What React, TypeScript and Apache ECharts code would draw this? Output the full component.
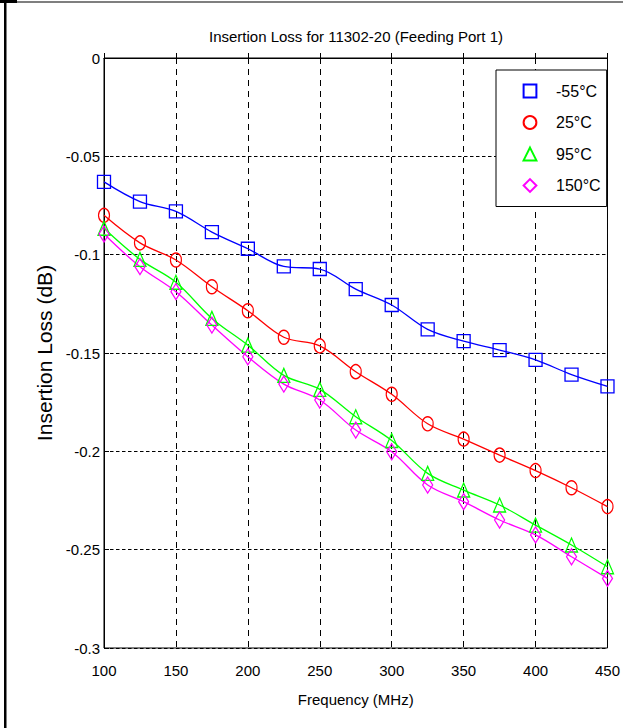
import React, { useEffect, useRef } from "react";
import * as echarts from "echarts";

const titleText = "Insertion Loss for 11302-20 (Feeding Port 1)";
const xAxisName = "Frequency (MHz)";
const yAxisName = "Insertion Loss (dB)";

const frequencies = [100, 125, 150, 175, 200, 225, 250, 275, 300, 325, 350, 375, 400, 425, 450];

const seriesNames = ["-55°C", "25°C", "95°C", "150°C"];

const lossM55 = [-0.063, -0.073, -0.078, -0.0885, -0.097, -0.106, -0.1073, -0.1175, -0.1256, -0.138, -0.144, -0.1485, -0.1535, -0.161, -0.167];
const loss25 = [-0.08, -0.094, -0.1027, -0.1163, -0.1285, -0.142, -0.1464, -0.1595, -0.171, -0.186, -0.1938, -0.2019, -0.2098, -0.2185, -0.2281];
const loss95 = [-0.0866, -0.1024, -0.114, -0.1324, -0.146, -0.1614, -0.1685, -0.1824, -0.1945, -0.2112, -0.2197, -0.2273, -0.2375, -0.2476, -0.2587];
const loss150 = [-0.0895, -0.1061, -0.1188, -0.1358, -0.1519, -0.1658, -0.1739, -0.1892, -0.2002, -0.2171, -0.2256, -0.2349, -0.2425, -0.2536, -0.2646];

const seriesValues = [lossM55, loss25, loss95, loss150];
const seriesColors = ["#0000ff", "#ff0000", "#00ff00", "#ff00ff"];
const seriesSymbols = ["rect", "circle", "triangle", "diamond"];
const seriesSymbolSizes = [[13, 13], [11, 14], [12, 14], [10, 16]];

const FONT = "'Liberation Sans', Arial, sans-serif";

export default function App() {
  const ref = useRef<HTMLDivElement>(null);

  useEffect(() => {
    if (!ref.current) return;
    const chart = echarts.init(ref.current, null, { renderer: "svg" });

    const series = seriesNames.map((name, i) => ({
      name,
      type: "line",
      smooth: 0.35,
      data: frequencies.map((f, j) => [f, seriesValues[i][j]]),
      symbol: seriesSymbols[i],
      symbolSize: seriesSymbolSizes[i],
      showSymbol: true,
      lineStyle: { color: seriesColors[i], width: 1.3 },
      itemStyle: { color: "rgba(255,255,255,0)", borderColor: seriesColors[i], borderWidth: 1.3 },
      emphasis: { disabled: true },
      z: 3,
    }));

    chart.setOption({
      animation: false,
      backgroundColor: "#ffffff",
      title: {
        text: titleText,
        left: 351,
        top: 24,
        textAlign: "center",
        textStyle: { fontFamily: FONT, fontSize: 15, fontWeight: "normal", color: "#000" },
      },
      legend: {
        orient: "vertical",
        left: 496,
        top: 70,
        data: seriesNames,
        backgroundColor: "#ffffff",
        borderColor: "#000",
        borderWidth: 1,
        padding: [13, 6, 13, 12],
        itemWidth: 42,
        itemHeight: 16,
        itemGap: 15.5,
        lineStyle: { opacity: 0 },
        textStyle: { fontFamily: FONT, fontSize: 16, color: "#000" },
        selectedMode: false,
      },
      grid: {
        left: 104,
        right: 11.5,
        top: 58,
        bottom: 80,
        show: true,
        borderColor: "#000",
        borderWidth: 1,
        backgroundColor: "#ffffff",
      },
      xAxis: {
        type: "value",
        min: 100,
        max: 450,
        interval: 50,
        name: xAxisName,
        nameLocation: "middle",
        nameGap: 44,
        nameTextStyle: { fontFamily: FONT, fontSize: 15, color: "#000" },
        axisLine: { show: true, lineStyle: { color: "#000", width: 1 } },
        axisTick: { show: true, inside: true, length: 5, lineStyle: { color: "#000" } },
        axisLabel: { fontFamily: FONT, fontSize: 15, color: "#000", margin: 15 },
        splitLine: { show: true, lineStyle: { color: "#000", type: [6, 5], width: 1 } },
      },
      yAxis: {
        type: "value",
        min: -0.3,
        max: 0,
        interval: 0.05,
        name: yAxisName,
        nameLocation: "middle",
        nameRotate: 90,
        nameGap: 35,
        nameTextStyle: { fontFamily: FONT, fontSize: 21, color: "#000" },
        axisLine: { show: true, lineStyle: { color: "#000", width: 1 } },
        axisTick: { show: true, inside: true, length: 5, lineStyle: { color: "#000" } },
        axisLabel: {
          fontFamily: FONT,
          fontSize: 15,
          color: "#000",
          margin: 4,
          formatter: (v: number) => String(+v.toFixed(2)),
        },
        splitLine: { show: true, lineStyle: { color: "#000", type: [3.5, 2.5], width: 1 } },
      },
      graphic: [
        { type: "rect", left: 4, top: 0, shape: { width: 2.5, height: 728 }, style: { fill: "#000" }, silent: true },
        { type: "rect", left: 0, top: 0, shape: { width: 17, height: 3 }, style: { fill: "#000" }, silent: true },
        { type: "line", shape: { x1: 0, y1: 2, x2: 623, y2: 2 }, style: { stroke: "#000", lineWidth: 1.2 }, silent: true },
      ],
      series,
    });

    return () => chart.dispose();
  }, []);

  return (
    <div
      ref={ref}
      style={{ position: "absolute", left: 0, top: 0, width: 623, height: 728 }}
    />
  );
}
